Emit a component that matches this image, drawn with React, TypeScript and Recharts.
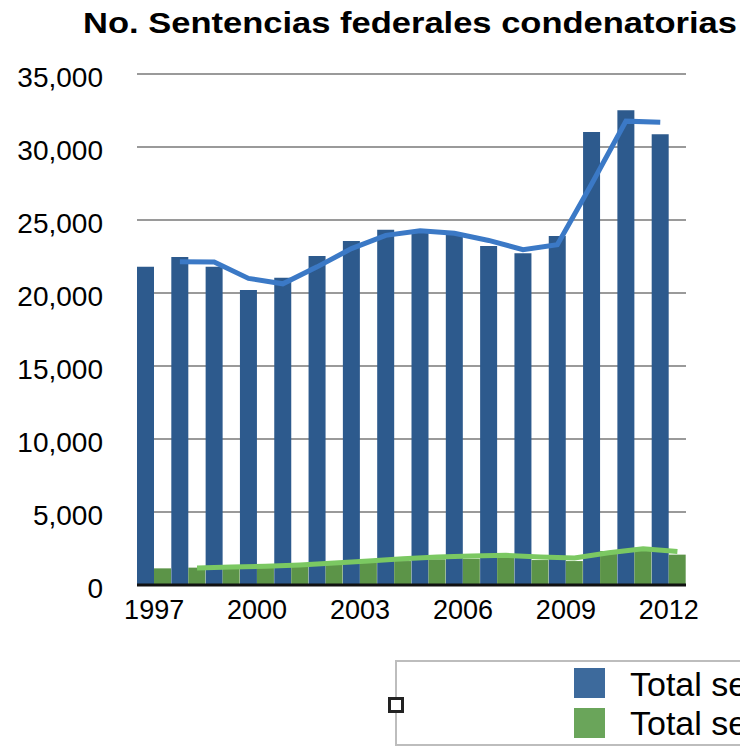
import { ComposedChart, Bar, Line, XAxis, YAxis, CartesianGrid } from 'recharts';

const years = ['1997', '1998', '1999', '2000', '2001', '2002', '2003', '2004', '2005', '2006', '2007', '2008', '2009', '2010', '2011', '2012'];
const totalSentencias = [21800, 22470, 21800, 20200, 21050, 22530, 23560, 24340, 24200, 23970, 23220, 22720, 23900, 31030, 32510, 30870];
const totalSentenciasB = [1140, 1190, 1250, 1300, 1410, 1480, 1530, 1640, 1760, 1800, 1870, 1710, 1640, 2330, 2550, 2080];
// tendencias (media móvil)
const trendA = [null, 22140, 22130, 21000, 20630, 21790, 23040, 23950, 24270, 24090, 23600, 22970, 23310, 27470, 31770, 31690];
const trendB = [null, 1170, 1230, 1290, 1370, 1500, 1640, 1800, 1920, 1990, 2030, 1920, 1850, 2210, 2480, 2300];
const yTicks = [0, 5000, 10000, 15000, 20000, 25000, 30000, 35000];

const BLUE = '#2d5a8d';
const GREEN = '#5c9448';
const BLUE_LINE = '#3b79c6';
const GREEN_LINE = '#7bc862';
const FONT = '"Liberation Sans", Arial, sans-serif';

const data = years.map((year, i) => ({
  year,
  a: totalSentencias[i],
  b: totalSentenciasB[i],
  ta: trendA[i],
  tb: trendB[i],
  // posición de cada barra dentro de su categoría (izquierda / derecha)
  posA: i + 0.25,
  posB: i + 0.75,
}));

export default function App() {
  return (
    <div style={{ position: 'absolute', left: 0, top: 0, width: 740, height: 750, overflow: 'hidden', background: '#fff' }}>
      <div
        style={{
          position: 'absolute',
          left: 83,
          top: 9,
          fontFamily: FONT,
          fontWeight: 'bold',
          fontSize: 29,
          lineHeight: 1,
          whiteSpace: 'nowrap',
          transform: 'scaleX(1.19)',
          transformOrigin: 'left top',
        }}
      >
        No. Sentencias federales condenatorias
      </div>

      <div style={{ position: 'absolute', left: 0, top: 0 }}>
        <ComposedChart
          width={740}
          height={650}
          data={data}
          margin={{ top: 74, right: 54, bottom: 0, left: 0 }}
          barCategoryGap={0}
          barGap={0}
        >
          <CartesianGrid vertical={false} stroke="#9a9a9a" strokeWidth={2} />
          <XAxis
            xAxisId="cat"
            dataKey="year"
            interval={2}
            height={65}
            tickLine={false}
            tickSize={0}
            tickMargin={15}
            axisLine={{ stroke: '#111', strokeWidth: 3 }}
            tick={{ fill: '#000', fontSize: 27, fontFamily: FONT }}
          />
          <XAxis xAxisId="pa" type="number" dataKey="posA" domain={[0, 16]} hide />
          <XAxis xAxisId="pb" type="number" dataKey="posB" domain={[0, 16]} hide />
          <YAxis
            width={137}
            domain={[0, 35000]}
            ticks={yTicks}
            interval={0}
            axisLine={false}
            tickLine={false}
            tickSize={0}
            tickMargin={34}
            tickFormatter={(v: number) => v.toLocaleString('en-US')}
            tick={{ fill: '#000', fontSize: 28, fontFamily: FONT, dy: 3 }}
          />
          <Bar xAxisId="cat" dataKey="a" fill={BLUE} name="Total sentencias" isAnimationActive={false} />
          <Bar xAxisId="cat" dataKey="b" fill={GREEN} name="Total sentencias" isAnimationActive={false} />
          <Line
            xAxisId="pa"
            dataKey="ta"
            type="linear"
            stroke={BLUE_LINE}
            strokeWidth={5}
            dot={false}
            isAnimationActive={false}
          />
          <Line
            xAxisId="pb"
            dataKey="tb"
            type="linear"
            stroke={GREEN_LINE}
            strokeWidth={5}
            dot={false}
            isAnimationActive={false}
          />
        </ComposedChart>
      </div>

      {/* leyenda */}
      <div style={{ position: 'absolute', left: 395, top: 660, width: 420, height: 82, border: '2px solid #bdbdbd' }} />
      <div style={{ position: 'absolute', left: 388, top: 697, width: 10, height: 10, border: '3px solid #222', background: '#fff' }} />
      <div style={{ position: 'absolute', left: 574, top: 668, width: 31, height: 30, background: '#3d6a9c' }} />
      <div style={{ position: 'absolute', left: 574, top: 708, width: 31, height: 30, background: '#6aa55a' }} />
      <div style={{ position: 'absolute', left: 630, top: 665, fontFamily: FONT, fontSize: 34, lineHeight: '38px', whiteSpace: 'nowrap', color: '#000' }}>
        Total sentencias
      </div>
      <div style={{ position: 'absolute', left: 630, top: 704, fontFamily: FONT, fontSize: 34, lineHeight: '38px', whiteSpace: 'nowrap', color: '#000' }}>
        Total sentencias
      </div>
    </div>
  );
}
